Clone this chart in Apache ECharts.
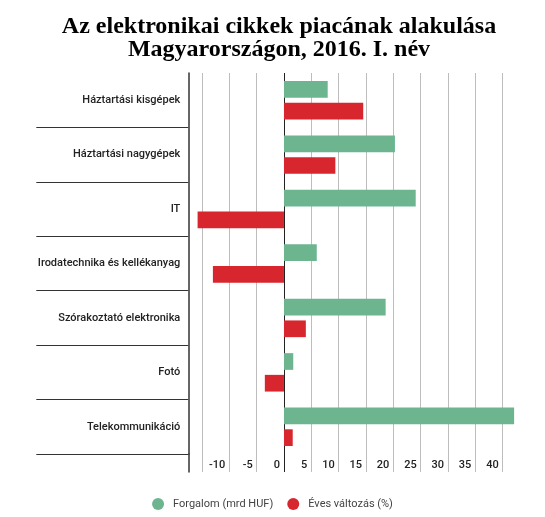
<!DOCTYPE html>
<html>
<head>
<meta charset="utf-8">
<script src="https://cdn.jsdelivr.net/npm/echarts@6/dist/echarts.min.js"></script>
<style>
html,body{margin:0;padding:0;background:#fff;}
#c{width:545px;height:517px;}
</style>
</head>
<body>
<div id="c"></div>
<script>
const categories = ['Háztartási kisgépek','Háztartási nagygépek','IT','Irodatechnika és kellékanyag','Szórakoztató elektronika','Fotó','Telekommunikáció'];
const forgalom = [8.0, 20.3, 24.1, 6.0, 18.6, 1.7, 42.1];
const valtozas = [14.5, 9.4, -15.8, -13.0, 4.0, -3.5, 1.6];
const seriesNames = ['Forgalom (mrd HUF)', 'Éves változás (%)'];
const axisMin = -17.5, axisMax = 42.5, axisStep = 2.5;

const splitColors = [];
for (let v = axisMin; v <= axisMax + 1e-9; v += axisStep) {
  const r = Math.round(v * 10) / 10;
  if (r === 0) splitColors.push('#222');
  else if (Math.abs(r % 5) < 1e-9) splitColors.push('#bdbdbd');
  else splitColors.push('rgba(0,0,0,0)');
}
function tickLabel(v) {
  const r = Math.round(v * 10) / 10;
  if (Math.abs(r % 5) > 1e-9) return '';
  if (r < -10 || r > 40) return '';
  return String(r);
}

const chart = echarts.init(document.getElementById('c'), null, {renderer: 'canvas'});
const font = 'Roboto, "Noto Sans", sans-serif';
chart.setOption({
  animation: false,
  backgroundColor: '#fff',
  title: {
    text: 'Az elektronikai cikkek piacának alakulása\nMagyarországon, 2016. I. név',
    left: 274, top: 10, textAlign: 'center',
    textStyle: {fontFamily: '"Liberation Serif", "Times New Roman", serif', fontWeight: 'bold', fontSize: 24, lineHeight: 23, color: '#000'}
  },
  legend: {
    data: seriesNames,
    left: 'center', top: 493,
    icon: 'circle', itemWidth: 20, itemHeight: 12, itemGap: 14,
    textStyle: {fontFamily: font, fontSize: 11, color: '#444'}
  },
  grid: [
    {left: 188.3, right: 28.7, top: 73, height: 381},
    {left: 188.3, right: 28.7, top: 454, height: 18}
  ],
  xAxis: [
    {type: 'value', gridIndex: 0, min: axisMin, max: axisMax, interval: axisStep,
     axisLine: {show: false}, axisTick: {show: false}, axisLabel: {show: false},
     splitLine: {show: true, lineStyle: {color: splitColors, width: 1}}},
    {type: 'value', gridIndex: 1, min: axisMin, max: axisMax, interval: axisStep, position: 'bottom',
     axisLine: {show: false}, axisTick: {show: false},
     axisLabel: {show: true, inside: true, margin: 1, formatter: tickLabel, align: 'right', padding: [0, 4, 0, 0],
       fontFamily: font, fontSize: 11, fontWeight: 500, color: '#222'},
     splitLine: {show: true, lineStyle: {color: splitColors, width: 1}}}
  ],
  yAxis: [
    {type: 'category', gridIndex: 0, inverse: true, data: categories,
     axisLine: {show: true, onZero: false, lineStyle: {color: '#333', width: 1.5}},
     axisTick: {show: true, length: 152, interval: function (idx) { return idx !== 0; }, lineStyle: {color: '#333', width: 1}},
     axisLabel: {margin: 8, fontFamily: font, fontSize: 11, fontWeight: 500, color: '#222'}},
    {type: 'category', gridIndex: 1, data: [''],
     axisLine: {show: true, onZero: false, lineStyle: {color: '#333', width: 1.5}},
     axisTick: {show: false}, axisLabel: {show: false}}
  ],
  series: [
    {name: seriesNames[0], type: 'bar', xAxisIndex: 0, yAxisIndex: 0, data: forgalom,
     barWidth: 16.7, barGap: '30%', itemStyle: {color: '#6db58f'}},
    {name: seriesNames[1], type: 'bar', xAxisIndex: 0, yAxisIndex: 0, data: valtozas,
     barWidth: 16.7, barGap: '30%', itemStyle: {color: '#d8262e'}}
  ]
});
</script>
</body>
</html>
